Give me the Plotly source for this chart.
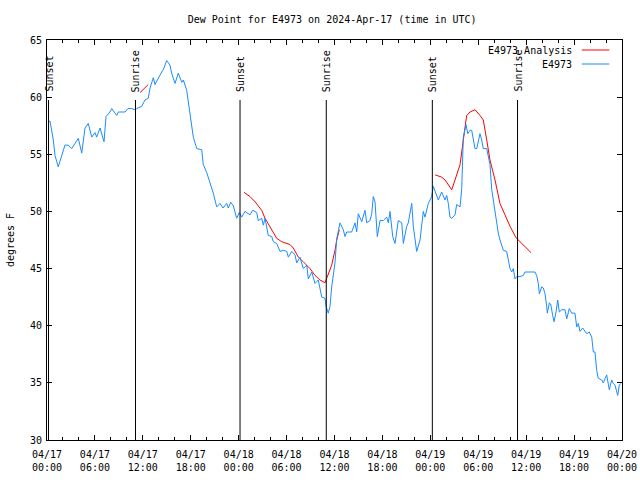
import pandas as pd
import plotly.graph_objects as go

START = pd.Timestamp("2024-04-17 00:00")

# Observations (hours since 2024-04-17 00:00 UTC, dew point degF)
obs_hours = [0.16, 0.38, 0.79, 1.0, 1.41, 1.84, 2.25, 2.67, 3.09, 3.92, 4.35, 4.76, 5.17, 5.6, 6.01, 6.22,
             6.64, 7.14, 7.39, 7.89, 8.1, 8.73, 8.93, 9.77, 10.14, 10.61, 11.02, 11.23, 11.86, 12.27, 12.68,
             12.9, 13.31, 13.52, 13.94, 14.36, 14.56, 14.99, 15.4, 15.61, 16.03, 16.44, 16.87, 17.07, 17.49,
             17.69, 18.12, 18.32, 18.75, 19.37, 19.57, 20.0, 20.41, 20.82, 21.25, 21.66, 22.04, 22.5, 22.7,
             23.0, 23.33, 23.75, 24.08, 24.38, 24.79, 25.42, 25.76, 26.26, 26.46, 26.88, 27.09, 27.3, 27.71,
             28.14, 28.34, 28.76, 29.18, 29.59, 30.02, 30.22, 30.64, 31.05, 31.27, 31.68, 32.09, 32.52, 32.72,
             33.15, 33.56, 33.97, 34.4, 34.81, 34.94, 35.22, 35.44, 35.65, 36.06, 36.28, 36.69, 37.1, 37.32,
             37.53, 38.15, 38.57, 38.78, 38.98, 39.41, 39.82, 40.03, 40.45, 40.66, 40.86, 41.07, 41.36, 41.7,
             42.11, 42.54, 42.74, 42.95, 43.29, 43.58, 43.99, 44.42, 44.62, 45.04, 45.24, 45.67, 45.87, 46.29,
             46.71, 47.12, 47.33, 47.75, 48.17, 48.37, 48.8, 49.0, 49.42, 49.84, 50.05, 50.25, 50.46, 50.68,
             51.09, 51.3, 51.72, 51.93, 52.13, 52.47, 52.68, 52.97, 53.18, 53.38, 53.59, 53.81, 54.01, 54.22,
             54.43, 54.63, 55.06, 55.26, 55.47, 55.69, 55.89, 56.1, 56.31, 56.51, 56.72, 56.94, 57.14, 57.56,
             57.76, 57.98, 58.19, 58.39, 58.6, 58.81, 59.23, 59.64, 59.85, 61.1, 61.32, 61.52, 61.65, 61.95,
             62.15, 62.36, 62.57, 62.65, 62.9, 63.07, 63.32, 63.49, 63.74, 63.95, 64.15, 64.45, 64.86, 65.08,
             65.4, 65.7, 66.11, 66.33, 66.53, 66.74, 67.08, 67.24, 67.58, 67.9, 68.21, 68.41, 68.62, 68.83,
             69.03, 69.46, 69.66, 70.08, 70.28, 70.41, 70.71, 70.91, 71.12, 71.34, 71.46, 71.66, 71.84]
obs_dewpt = [57.85, 57.9, 56.25, 54.9, 53.9, 54.9, 55.8, 55.8, 55.5, 56.4, 55.1, 57.3, 57.7, 56.5, 56.9, 56.5,
             57.3, 56.1, 58.3, 58.7, 59.0, 58.4, 58.7, 58.7, 59.0, 59.0, 58.9, 59.0, 59.2, 59.75, 59.9,
             60.8, 61.7, 61.1, 61.7, 62.2, 62.4, 63.2, 62.8, 62.1, 61.2, 62.1, 61.3, 61.5, 60.6,
             59.5, 57.4, 56.5, 55.5, 55.4, 54.1, 53.4, 52.5, 51.6, 50.4, 50.7, 50.3, 50.7, 50.3,
             50.8, 50.5, 49.4, 49.9, 49.5, 50.0, 49.7, 50.1, 49.9, 49.2, 49.4, 48.8, 49.4, 47.9,
             47.8, 47.35, 47.2, 46.5, 46.6, 46.5, 46.0, 46.5, 46.2, 45.5, 46.0, 45.0, 45.3, 44.1,
             44.7, 43.7, 44.0, 42.5, 42.4, 41.7, 41.1, 41.7, 43.4, 45.5, 47.6, 49.0, 48.4, 47.8,
             48.2, 48.2, 49.0, 48.2, 49.8, 49.1, 50.1, 49.0, 49.2, 49.8, 51.3, 50.85, 47.8, 49.2,
             49.2, 49.5, 49.0, 50.0, 47.8, 47.2, 49.2, 49.0, 47.2, 48.7, 49.0, 50.7, 48.7, 46.5,
             47.5, 50.0, 49.5, 50.7, 51.3, 52.2, 51.3, 51.0, 51.7, 51.0, 51.4, 50.7, 49.5, 49.4,
             49.7, 50.6, 50.4, 52.0, 56.5, 57.6, 56.8, 57.1, 57.1, 56.25, 55.5, 55.5, 56.25, 56.8,
             56.25, 55.5, 55.5, 54.8, 54.1, 51.9, 51.0, 49.8, 48.7, 48.1, 47.5, 46.9, 46.6, 46.5,
             45.6, 45.0, 44.7, 45.0, 44.1, 44.3, 44.3, 44.4, 44.7, 44.7, 44.4, 43.7, 42.8, 43.4,
             43.3, 42.8, 41.7, 41.1, 42.0, 41.9, 40.9, 40.35, 41.2, 42.25, 41.2, 41.4, 41.4, 40.6,
             41.5, 41.1, 41.1, 39.9, 40.2, 39.5, 39.8, 39.6, 39.3, 39.45, 39.0, 37.7, 37.7, 36.1,
             35.4, 35.25, 35.0, 35.7, 34.8, 34.4, 35.25, 34.95, 34.8, 34.2, 33.9, 34.8, 34.95]

# Analysis (None separates segments)
ana_hours = [11.65, 12.68, 12.69,
             24.67, 25.42, 26.05, 26.88, 27.3, 28.14, 28.76, 29.39, 30.43, 30.84, 31.47, 32.09, 32.93,
             33.56, 34.18, 34.81, 35.22, 35.65, 36.06, 36.28, 36.6, 36.61,
             48.6, 49.42, 49.84, 50.68, 51.09, 51.72, 52.13, 52.55, 52.97, 53.59, 54.22, 54.63, 55.06,
             55.47, 56.1, 56.51, 56.72, 57.35, 57.98, 58.73, 59.44, 60.07, 60.6]
ana_dewpt = [60.4, 61.1, None,
             51.67, 51.3, 50.85, 50.1, 49.4, 48.4, 47.65, 47.35, 47.1, 46.8, 46.0, 45.6, 45.0,
             44.4, 44.0, 43.76, 44.6, 45.3, 46.6, 47.5, 48.4, None,
             53.2, 53.0, 52.75, 51.9, 52.75, 54.1, 56.25, 58.4, 58.7, 58.9, 58.4, 58.0, 56.25,
             54.5, 52.75, 51.3, 50.7, 49.7, 48.7, 47.7, 47.2, 46.7, 46.4]

# Sun events
event_hours = [0.19, 11.08, 24.17, 34.97, 48.25, 58.92]
event_labels = ["Sunset", "Sunrise", "Sunset", "Sunrise", "Sunset", "Sunrise"]

# X ticks
xtick_hours = [0, 6, 12, 18, 24, 30, 36, 42, 48, 54, 60, 66, 72]
xtick_text = ["04/17<br>00:00", "04/17<br>06:00", "04/17<br>12:00", "04/17<br>18:00",
              "04/18<br>00:00", "04/18<br>06:00", "04/18<br>12:00", "04/18<br>18:00",
              "04/19<br>00:00", "04/19<br>06:00", "04/19<br>12:00", "04/19<br>18:00",
              "04/20<br>00:00"]
ytick_vals = [30, 35, 40, 45, 50, 55, 60, 65]


def to_time(hours):
    return [START + pd.Timedelta(hours=h) for h in hours]


FONT = "DejaVu Sans Mono"
RED = "#ff0000"
BLUE = "#1a8cff"

fig = go.Figure()
fig.add_trace(go.Scatter(x=to_time(ana_hours), y=ana_dewpt, mode="lines",
                         line=dict(color=RED, width=1), name="E4973 Analysis",
                         connectgaps=False, showlegend=False))
fig.add_trace(go.Scatter(x=to_time(obs_hours), y=obs_dewpt, mode="lines",
                         line=dict(color=BLUE, width=1, shape="linear"), name="E4973",
                         showlegend=False))

shapes = []
annotations = []
for h, lab in zip(event_hours, event_labels):
    t = START + pd.Timedelta(hours=h)
    shapes.append(dict(type="line", xref="x", yref="paper", x0=t, x1=t, y0=0, y1=0.85,
                       line=dict(color="black", width=1)))
    annotations.append(dict(x=t, y=0.865, xref="x", yref="paper", text=lab, textangle=-90,
                            showarrow=False, xanchor="center", yanchor="bottom",
                            font=dict(family=FONT, size=10, color="black")))

# Manual gnuplot-style legend (text left, line sample right)
legend_items = [("E4973 Analysis", RED, 0.975), ("E4973", BLUE, 0.94)]
for text, col, yy in legend_items:
    annotations.append(dict(x=0.917, y=yy, xref="paper", yref="paper", text=text, showarrow=False,
                            xanchor="right", yanchor="middle",
                            font=dict(family=FONT, size=10, color="black")))
    shapes.append(dict(type="line", xref="paper", yref="paper", x0=0.93, x1=0.978, y0=yy, y1=yy,
                       line=dict(color=col, width=1)))

fig.update_layout(
    width=640, height=480,
    margin=dict(l=47, r=18, t=40, b=40, autoexpand=False),
    paper_bgcolor="white", plot_bgcolor="white",
    title=dict(text="Dew Point for E4973 on 2024-Apr-17 (time in UTC)", x=0.519, xanchor="center",
               y=0.96, yanchor="middle", font=dict(family=FONT, size=10, color="black")),
    font=dict(family=FONT, size=10, color="black"),
    shapes=shapes, annotations=annotations,
    showlegend=False,
)
fig.update_xaxes(
    type="date", automargin=False,
    range=[START, START + pd.Timedelta(hours=72)],
    tickmode="array", tickvals=to_time(xtick_hours), ticktext=xtick_text,
    ticks="inside", ticklen=5, tickcolor="black", tickwidth=1,
    showline=True, linecolor="black", linewidth=1, mirror="ticks",
    showgrid=False, zeroline=False, ticklabelstandoff=5,
    minor=dict(dtick=2 * 3600 * 1000, ticks="inside", ticklen=3, tickcolor="black", showgrid=False),
    tickfont=dict(family=FONT, size=10, color="black"),
)
fig.update_yaxes(
    range=[30, 65], tickmode="array", tickvals=ytick_vals, automargin=False,
    ticks="inside", ticklen=5, tickcolor="black", tickwidth=1,
    showline=True, linecolor="black", linewidth=1, mirror="ticks",
    showgrid=False, zeroline=False, ticklabelstandoff=2,
    title=dict(text="degrees F", font=dict(family=FONT, size=10, color="black"), standoff=13),
    tickfont=dict(family=FONT, size=10, color="black"),
)

fig.write_html("out.html", config={"displayModeBar": False},
               post_script="document.body.style.margin='0';document.body.style.padding='0';")
